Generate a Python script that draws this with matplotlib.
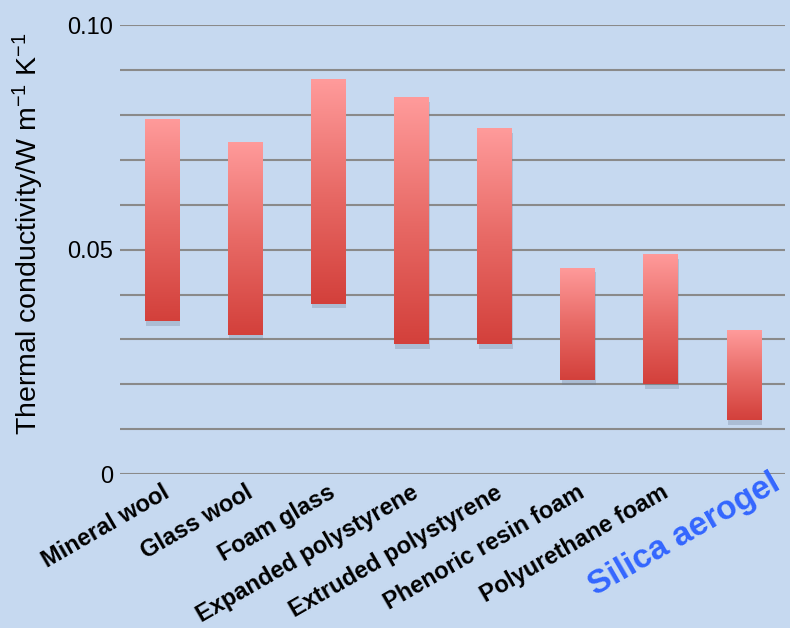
import numpy as np
import matplotlib
matplotlib.use('Agg')
import matplotlib.pyplot as plt
import matplotlib.patheffects as pe
import matplotlib.transforms as mtransforms
from matplotlib.colors import LinearSegmentedColormap

# 단열재 열전도율 범위 (W m-1 K-1)
materials = ['Mineral wool', 'Glass wool', 'Foam glass', 'Expanded polystyrene',
             'Extruded polystyrene', 'Phenoric resin foam', 'Polyurethane foam',
             'Silica aerogel']
k_low = [0.034, 0.031, 0.038, 0.029, 0.029, 0.021, 0.020, 0.012]
k_high = [0.079, 0.074, 0.088, 0.084, 0.077, 0.046, 0.049, 0.032]

plt.rcParams['font.family'] = ['Liberation Sans', 'DejaVu Sans']
plt.rcParams['mathtext.default'] = 'regular'

bg = '#c6d9f0'
fig = plt.figure(figsize=(7.9, 6.28), dpi=100, facecolor=bg)
ax = fig.add_axes([0.152, 0.245, 0.842, 0.715], facecolor=bg)

x = np.arange(len(materials))
heights = np.array(k_high) - np.array(k_low)
bars = ax.bar(x, heights, bottom=k_low, width=0.41, color='#d44340', zorder=3,
              path_effects=[pe.SimplePatchShadow(offset=(1, -3.5), shadow_rgbFace='#6f7f96', alpha=0.3),
                            pe.Normal()])

# 그라데이션 채우기 (위: 연분홍, 아래: 빨강)
cmap = LinearSegmentedColormap.from_list('grad', ['#d3403b', '#e86a66', '#ff9b9b'])
grad = np.linspace(0, 1, 256).reshape(-1, 1)
for b in bars:
    x0, y0 = b.get_x(), b.get_y()
    im = ax.imshow(grad, cmap=cmap, origin='lower', aspect='auto',
                   extent=(x0, x0 + b.get_width(), y0, y0 + b.get_height()), zorder=4)
    im.set_clip_path(b)

ax.set_xlim(-0.5, len(materials) - 0.5)
ax.set_ylim(0, 0.10)
for v in np.arange(0, 0.1001, 0.01):
    ax.axhline(v, color='#8a8a8a', lw=1.5, zorder=1)

ax.set_yticks([0, 0.05, 0.10])
ax.set_yticklabels(['0', '0.05', '0.10'], fontsize=17)
ax.tick_params(axis='y', length=0, pad=5)
ax.tick_params(axis='x', length=0, pad=5)
for s in ax.spines.values():
    s.set_visible(False)

ax.set_xticks(x)
ax.set_xticklabels(materials, rotation=30, ha='right', rotation_mode='anchor',
                   fontsize=17, fontweight='bold')
last = ax.get_xticklabels()[-1]
last.set_color('#3366ff')
last.set_fontsize(24)
last.set_transform(last.get_transform() +
                   mtransforms.ScaledTranslation(26 / 100, 14 / 100, fig.dpi_scale_trans))

fig.text(28 / 790, 1 - 234 / 628, 'Thermal conductivity/W m$^{\u22121}$ K$^{\u22121}$',
         rotation=90, fontsize=20.5, ha='center', va='center')

plt.savefig('out.png', dpi=100, facecolor=bg)
